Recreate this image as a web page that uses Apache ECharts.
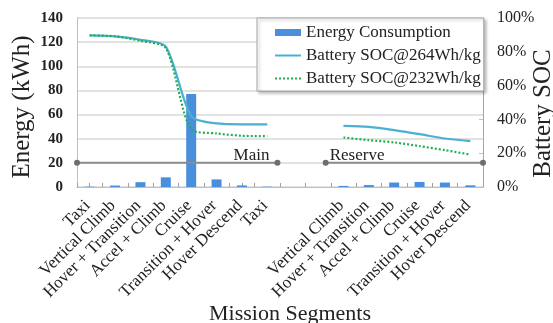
<!DOCTYPE html>
<html>
<head>
<meta charset="utf-8">
<script src="https://cdn.jsdelivr.net/npm/echarts@6/dist/echarts.min.js"></script>
<style>
  html, body { margin: 0; padding: 0; background: #fff; overflow: hidden; }
  #chart { width: 553px; height: 323px; }
</style>
</head>
<body>
<div id="chart"></div>
<script>
// Mission segments: main flight, two empty slots, then the reserve flight
const segments = [
  'Taxi', 'Vertical Climb', 'Hover + Transition', 'Accel + Climb', 'Cruise',
  'Transition + Hover', 'Hover Descend', 'Taxi', '', '',
  'Vertical Climb', 'Hover + Transition', 'Accel + Climb', 'Cruise',
  'Transition + Hover', 'Hover Descend'
];

// Energy used per segment (kWh)
const energyKWh = [0.3, 1.2, 4, 8, 77, 6.3, 1.3, 0.3, null, null, 0.9, 1.6, 3.7, 4.2, 3.7, 1.4];

// Battery state of charge at the end of each segment (%)
const soc264 = [89.7, 89.1, 87.1, 83.1, 42.0, 37.6, 37.1, 37.1, null, null, 36.2, 35.6, 33.7, 31.3, 28.7, 27.1];
const soc232 = [89.7, 89.2, 86.5, 82.2, 34.0, 31.7, 30.3, 30.1, null, null, 29.3, 27.7, 26.4, 24.2, 21.8, 19.2];

// Phase brackets drawn at the 20 kWh level, in segment-slot units (0..16)
const mainSpan = [[0, 20], [7.9, 20]];
const reserveSpan = [[9.8, 20], [16, 20]];
const phaseNames = ['Main', 'Reserve'];

const seriesNames = ['Energy Consumption', 'Battery SOC@264Wh/kg', 'Battery SOC@232Wh/kg'];
const energyTicks = { min: 0, max: 140, interval: 20 };
const socTicks = { min: 0, max: 100, interval: 20 };

const SERIF = "'Liberation Serif', 'Times New Roman', serif";
const chart = echarts.init(document.getElementById('chart'), null, { renderer: 'canvas' });

const bracketStyle = {
  type: 'line',
  xAxisIndex: 2,
  yAxisIndex: 0,
  symbol: 'circle',
  symbolSize: 6,
  clip: false,
  silent: true,
  itemStyle: { color: '#6e6e6e' },
  lineStyle: { color: '#8c8c8c', width: 2 }
};

// hide the marker that line series put in the middle of their legend icon
const noMarker = { color: 'rgba(0,0,0,0)', borderWidth: 0, opacity: 0 };

chart.setOption({
  animation: false,
  backgroundColor: '#fff',
  grid: { left: 77, top: 18, width: 406, height: 169, outerBoundsMode: 'none', containLabel: false },
  legend: {
    orient: 'vertical',
    left: 257,
    top: 18,
    itemWidth: 26,
    itemHeight: 7,
    itemGap: 6,
    padding: [6, 3, 4, 17],
    backgroundColor: '#fff',
    borderColor: '#a6a6a6',
    borderWidth: 1,
    shadowColor: 'rgba(0,0,0,0.25)',
    shadowBlur: 3,
    shadowOffsetX: 2,
    shadowOffsetY: 2,
    textStyle: { fontFamily: SERIF, fontSize: 17, color: '#222', lineHeight: 17 },
    data: [
      { name: seriesNames[0], icon: 'rect' },
      { name: seriesNames[1], itemStyle: noMarker },
      { name: seriesNames[2], itemStyle: noMarker }
    ]
  },
  xAxis: [
    {
      type: 'category',
      data: segments,
      boundaryGap: true,
      axisLine: { lineStyle: { color: '#bfbfbf', width: 1 } },
      axisTick: { show: true, inside: true, length: 4, lineStyle: { color: '#a0a0a0' } },
      axisLabel: {
        interval: 0, rotate: 45, margin: 14,
        align: 'right', verticalAlign: 'middle', padding: [7, 3, 0, 0],
        fontFamily: SERIF, fontSize: 17, color: '#222'
      },
      name: 'Mission Segments',
      nameLocation: 'middle',
      nameGap: 116,
      nameMoveOverlap: false,
      nameTextStyle: { fontFamily: SERIF, fontSize: 22, color: '#222', padding: [0, 0, 0, 20] }
    },
    {
      type: 'category',
      data: segments,
      position: 'bottom',
      boundaryGap: true,
      axisLine: { show: false },
      axisLabel: { show: false },
      axisTick: { show: true, alignWithLabel: true, inside: true, length: 4, lineStyle: { color: '#a0a0a0' } },
      splitLine: { show: false }
    },
    { type: 'value', min: 0, max: 16, show: false }
  ],
  yAxis: [
    {
      type: 'value',
      position: 'left',
      min: energyTicks.min, max: energyTicks.max, interval: energyTicks.interval,
      axisLine: { show: true, lineStyle: { color: '#bfbfbf' } },
      axisTick: { show: false },
      splitLine: { lineStyle: { color: '#d9d9d9', width: 1.5 } },
      axisLabel: { margin: 14, fontFamily: SERIF, fontWeight: 'bold', fontSize: 15, color: '#222' },
      name: 'Energy (kWh)',
      nameLocation: 'middle',
      nameRotate: 90,
      nameGap: 42,
      nameMoveOverlap: false,
      nameTextStyle: { fontFamily: SERIF, fontSize: 25, color: '#222', padding: [0, 9, 0, 0] }
    },
    {
      type: 'value',
      position: 'right',
      min: socTicks.min, max: socTicks.max, interval: socTicks.interval,
      axisLine: { show: true, lineStyle: { color: '#a6a6a6' } },
      axisTick: { show: true, inside: true, length: 4, lineStyle: { color: '#c0c0c0' } },
      splitLine: { show: false },
      axisLabel: { margin: 14, formatter: '{value}%', fontFamily: SERIF, fontSize: 16, color: '#222' },
      name: 'Battery SOC',
      nameLocation: 'middle',
      nameRotate: 90,
      nameGap: 48,
      nameMoveOverlap: false,
      nameTextStyle: { fontFamily: SERIF, fontSize: 25, color: '#222', padding: [0, 22, 0, 0] }
    }
  ],
  series: [
    Object.assign({}, bracketStyle, {
      name: phaseNames[0],
      data: [
        { value: mainSpan[0] },
        {
          value: mainSpan[1],
          label: {
            show: true, formatter: phaseNames[0], position: 'left', distance: 5, offset: [0, -7],
            fontFamily: SERIF, fontSize: 17, color: '#222'
          }
        }
      ]
    }),
    Object.assign({}, bracketStyle, {
      name: phaseNames[1],
      data: [
        {
          value: reserveSpan[0],
          label: {
            show: true, formatter: phaseNames[1], position: 'right', distance: 1, offset: [0, -7],
            fontFamily: SERIF, fontSize: 17, color: '#222'
          }
        },
        { value: reserveSpan[1] }
      ]
    }),
    {
      name: seriesNames[0],
      type: 'bar',
      data: energyKWh,
      barWidth: 10,
      itemStyle: { color: '#4a8fdb' }
    },
    {
      name: seriesNames[1],
      type: 'line',
      yAxisIndex: 1,
      data: soc264,
      symbol: 'none',
      smooth: 0.25,
      lineStyle: { color: '#4bb0d2', width: 2.2 },
      itemStyle: { color: '#4bb0d2' }
    },
    {
      name: seriesNames[2],
      type: 'line',
      yAxisIndex: 1,
      data: soc232,
      symbol: 'none',
      smooth: 0.25,
      lineStyle: { color: '#20b050', width: 2.2, type: [2, 2] },
      itemStyle: { color: '#20b050' }
    }
  ]
});
</script>
</body>
</html>
